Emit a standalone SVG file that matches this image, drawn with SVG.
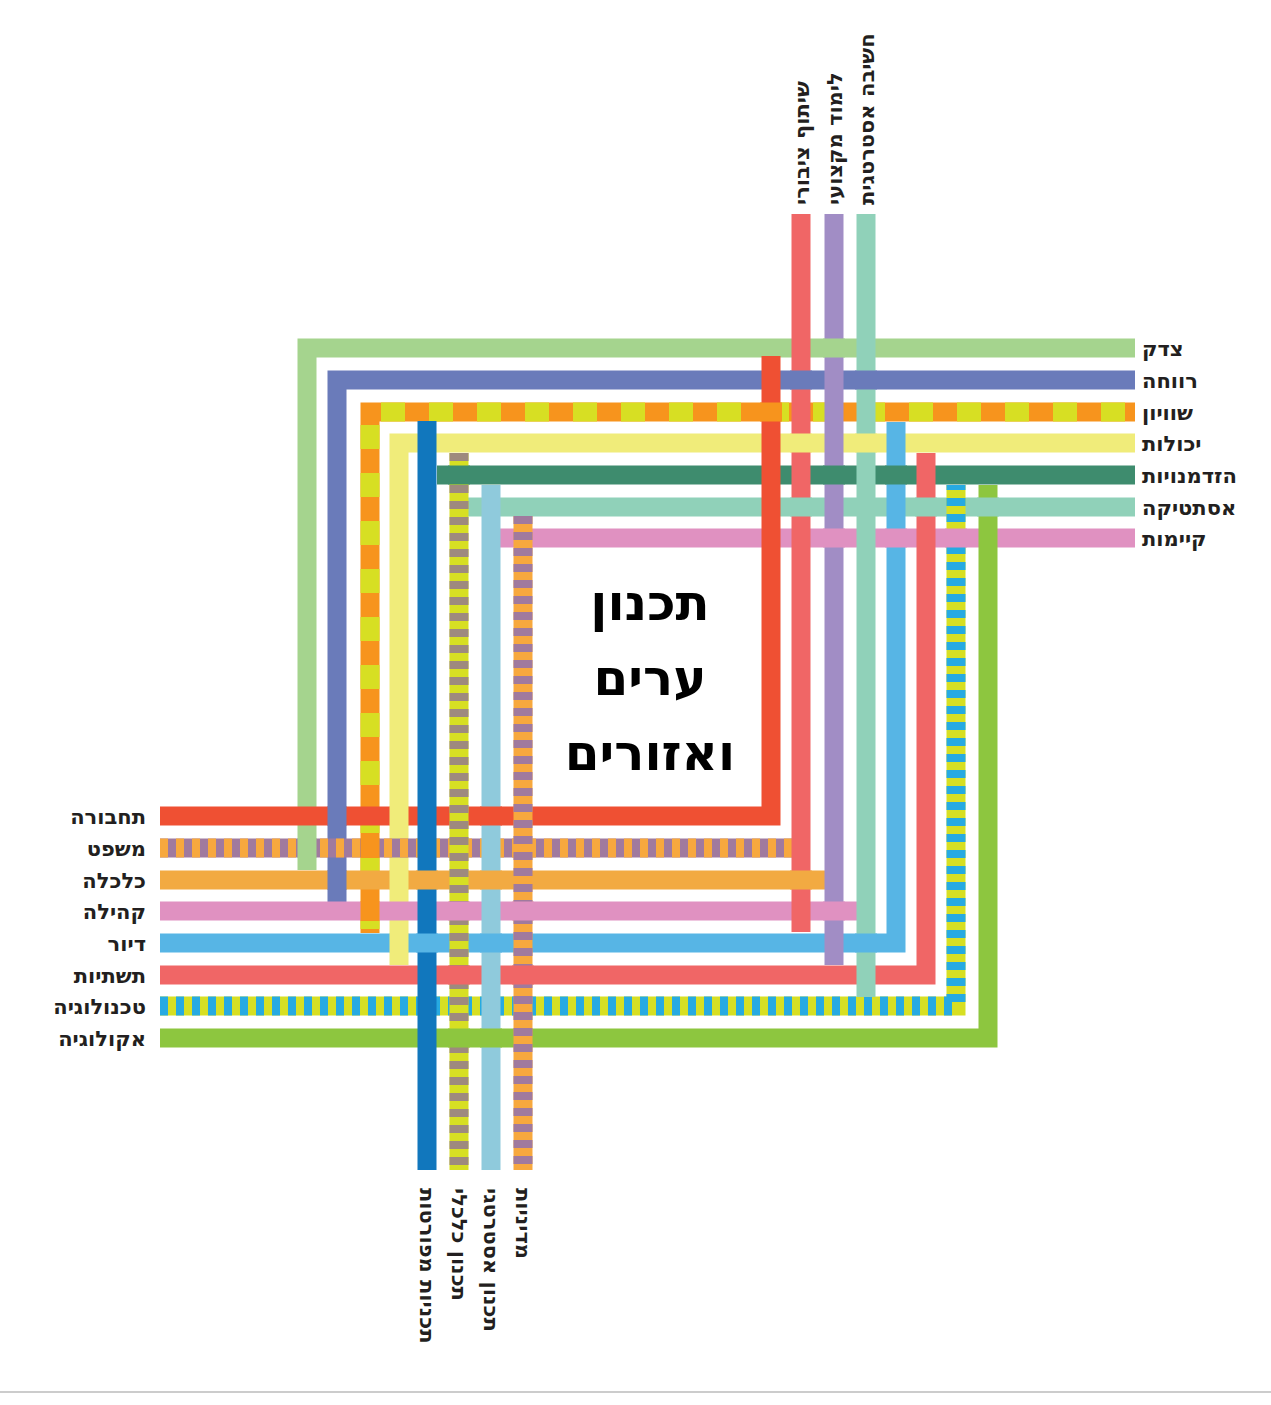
<svg xmlns="http://www.w3.org/2000/svg" width="1271" height="1405" viewBox="0 0 1271 1405">
<style>
.l{fill:none;stroke-width:19;stroke-linecap:butt;stroke-linejoin:miter}
.t{font-family:"DejaVu Sans","Liberation Sans",sans-serif;font-weight:bold;fill:#231f20;font-size:21px}
.v{font-family:"DejaVu Sans","Liberation Sans",sans-serif;font-weight:bold;fill:#231f20;font-size:21px}
.ttl{font-family:"DejaVu Sans","Liberation Sans",sans-serif;font-weight:bold;fill:#000;font-size:50px;text-anchor:middle}
.p{stroke-width:19}
</style>
<rect width="1271" height="1405" fill="#fff"/>
<line x1="0" y1="1392" x2="1271" y2="1392" stroke="#ccc" stroke-width="2"/>
<g id="connectors">
<path class="l" stroke="#A5D48E" d="M307,870 V348 H1135"/>
<path class="l" stroke="#6A7BBA" d="M337,902 V380 H1135"/>
<path class="l" stroke="#F7941D" d="M370,933 V412 H1135"/>
<path class="l" stroke="#D7DF23" stroke-dasharray="24 24" stroke-dashoffset="-4" d="M370,933 V412 H1135"/>
<path class="l" stroke="#F0EC7A" d="M399,965 V443 H1135"/>
<path class="l" stroke="#3E8C6E" d="M437,475 H1135"/>
<path class="l" stroke="#90D1B9" d="M468,507 H1135"/>
<path class="l" stroke="#E091C1" d="M500,538 H1135"/>
<path class="l" stroke="#EF5033" d="M160,816 H771 V356"/>
<path class="l" stroke="#A07A9E" d="M160,848 H793"/>
<path class="l" stroke="#F7A83E" stroke-dasharray="8 8" d="M160,848 H793"/>
<path class="l" stroke="#F2AA42" d="M160,880 H825"/>
<path class="l" stroke="#E091C1" d="M160,911 H858"/>
<path class="l" stroke="#57B5E5" d="M160,943 H896 V422"/>
<path class="l" stroke="#F06666" d="M160,975 H926 V453"/>
<path class="l" stroke="#D7DF23" d="M160,1006 H956 V485"/>
<path class="l" stroke="#27AAE1" stroke-dasharray="8 8" d="M160,1006 H956 V485"/>
<path class="l" stroke="#8DC63F" d="M160,1038 H988 V485"/>
<g class="p">
<line x1="307" y1="838" x2="307" y2="858" stroke="#A5D48E"/>
<line x1="337" y1="806" x2="337" y2="826" stroke="#6A7BBA"/>
<line x1="337" y1="870" x2="337" y2="890" stroke="#6A7BBA"/>
<line x1="370" y1="838" x2="370" y2="858" stroke="#F7941D"/>
<line x1="370" y1="901" x2="370" y2="921" stroke="#F7941D"/>
<line x1="399" y1="806" x2="399" y2="826" stroke="#F0EC7A"/>
<line x1="399" y1="870" x2="399" y2="890" stroke="#F0EC7A"/>
<line x1="399" y1="933" x2="399" y2="953" stroke="#F0EC7A"/>
<line x1="760" y1="412" x2="782" y2="412" stroke="#F7941D"/>
<line x1="885" y1="475" x2="907" y2="475" stroke="#3E8C6E"/>
<line x1="885" y1="538" x2="907" y2="538" stroke="#E091C1"/>
<line x1="915" y1="507" x2="937" y2="507" stroke="#90D1B9"/>
<line x1="945" y1="538" x2="967" y2="538" stroke="#E091C1"/>
<line x1="977" y1="507" x2="999" y2="507" stroke="#90D1B9"/>
</g>
<path class="l" stroke="#F06666" d="M801,214 V932"/>
<path class="l" stroke="#A18DC5" d="M834,214 V965"/>
<path class="l" stroke="#90D1B9" d="M866,214 V997"/>
<path class="l" stroke="#1177BD" d="M427,421 V1170"/>
<path class="l" stroke="#D7DF23" d="M459,453 V1170"/>
<path class="l" stroke="#9E8A7E" stroke-dasharray="8 8" d="M459,453 V1170"/>
<path class="l" stroke="#8FCADC" d="M491,485 V1170"/>
<path class="l" stroke="#F7A83E" d="M523,516 V1170"/>
<path class="l" stroke="#A07A9E" stroke-dasharray="8 8" d="M523,516 V1170"/>
<g class="p">
<line x1="790" y1="380" x2="812" y2="380" stroke="#6A7BBA"/>
<line x1="855" y1="380" x2="877" y2="380" stroke="#6A7BBA"/>
<line x1="790" y1="443" x2="812" y2="443" stroke="#F0EC7A"/>
<line x1="855" y1="443" x2="877" y2="443" stroke="#F0EC7A"/>
<line x1="790" y1="507" x2="812" y2="507" stroke="#90D1B9"/>
<line x1="790" y1="880" x2="812" y2="880" stroke="#F2AA42"/>
<line x1="823" y1="348" x2="845" y2="348" stroke="#A5D48E"/>
<line x1="823" y1="475" x2="845" y2="475" stroke="#3E8C6E"/>
<line x1="823" y1="538" x2="845" y2="538" stroke="#E091C1"/>
<line x1="823" y1="911" x2="845" y2="911" stroke="#E091C1"/>
<line x1="855" y1="943" x2="877" y2="943" stroke="#57B5E5"/>
<line x1="416" y1="880" x2="438" y2="880" stroke="#F2AA42"/>
<line x1="416" y1="943" x2="438" y2="943" stroke="#57B5E5"/>
<line x1="448" y1="475" x2="470" y2="475" stroke="#3E8C6E"/>
<line x1="448" y1="911" x2="470" y2="911" stroke="#E091C1"/>
<line x1="448" y1="975" x2="470" y2="975" stroke="#F06666"/>
<line x1="448" y1="1038" x2="470" y2="1038" stroke="#8DC63F"/>
<line x1="480" y1="816" x2="502" y2="816" stroke="#EF5033"/>
<line x1="480" y1="880" x2="502" y2="880" stroke="#F2AA42"/>
<line x1="480" y1="943" x2="502" y2="943" stroke="#57B5E5"/>
<line x1="480" y1="1038" x2="502" y2="1038" stroke="#8DC63F"/>
<line x1="512" y1="911" x2="534" y2="911" stroke="#E091C1"/>
<line x1="512" y1="975" x2="534" y2="975" stroke="#F06666"/>
</g>
</g>
<g id="title">
<text class="ttl" x="650" y="620">תכנון</text>
<text class="ttl" x="650" y="695">ערים</text>
<text class="ttl" x="650" y="770">ואזורים</text>
</g>
<g id="labels-right">
<text class="t" x="1142" y="356">צדק</text>
<text class="t" x="1142" y="388">רווחה</text>
<text class="t" x="1142" y="420">שוויון</text>
<text class="t" x="1142" y="451">יכולות</text>
<text class="t" x="1142" y="483">הזדמנויות</text>
<text class="t" x="1142" y="515">אסתטיקה</text>
<text class="t" x="1142" y="546">קיימות</text>
</g>
<g id="labels-left" text-anchor="end">
<text class="t" x="146" y="824">תחבורה</text>
<text class="t" x="146" y="856">משפט</text>
<text class="t" x="146" y="888">כלכלה</text>
<text class="t" x="146" y="919">קהילה</text>
<text class="t" x="146" y="951">דיור</text>
<text class="t" x="146" y="983">תשתיות</text>
<text class="t" x="146" y="1014">טכנולוגיה</text>
<text class="t" x="146" y="1046">אקולוגיה</text>
</g>
<g id="labels-top">
<text class="v" transform="translate(809,205) rotate(-90)">שיתוף ציבורי</text>
<text class="v" transform="translate(842,205) rotate(-90)">לימוד מקצועי</text>
<text class="v" transform="translate(874,205) rotate(-90)">חשיבה אסטרטגית</text>
</g>
<g id="labels-bottom">
<text class="v" transform="translate(420,1188) rotate(90)">תכניות מפורטות</text>
<text class="v" transform="translate(452,1188) rotate(90)">תכנון כלכלי</text>
<text class="v" transform="translate(484,1188) rotate(90)">תכנון אסטרטגי</text>
<text class="v" transform="translate(516,1188) rotate(90)">מדיניות</text>
</g>
</svg>
